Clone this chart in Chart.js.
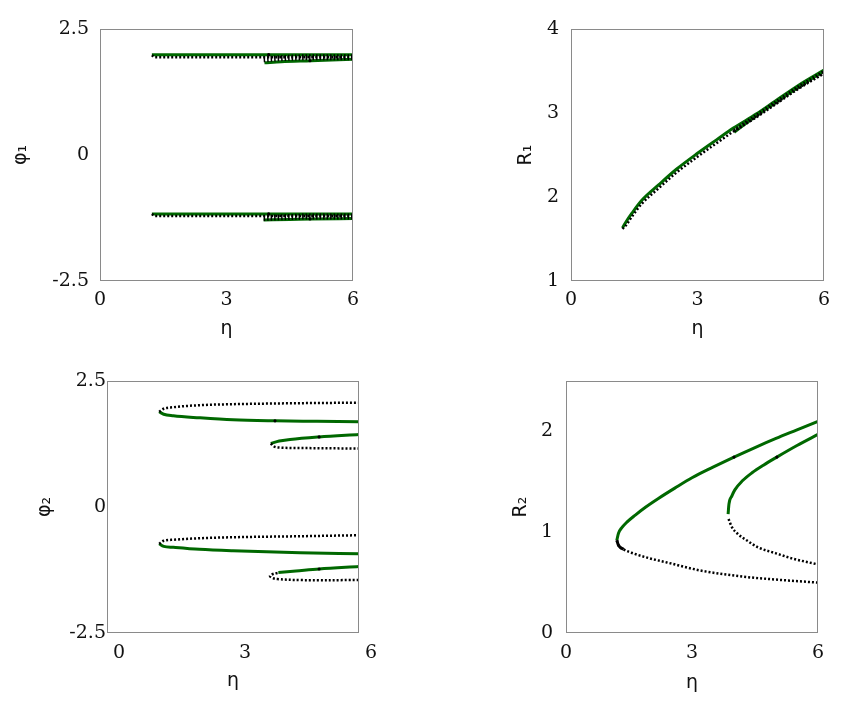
<!DOCTYPE html>
<html>
<head>
<meta charset="utf-8">
<script src="https://cdn.jsdelivr.net/npm/chart.js@4.4.1/dist/chart.umd.min.js"></script>
<style>
  body { margin: 0; background: #fff; width: 849px; height: 706px; position: relative; overflow: hidden; }
  canvas { position: absolute; }
</style>
</head>
<body>
<canvas id="c1" width="425" height="350" style="left:0;top:0"></canvas>
<canvas id="c2" width="424" height="350" style="left:425px;top:0"></canvas>
<canvas id="c3" width="425" height="356" style="left:0;top:350px"></canvas>
<canvas id="c4" width="424" height="356" style="left:425px;top:350px"></canvas>
<script>
// tick labels
const etaTicks = [0, 3, 6];
const phiTicks = [-2.5, 0, 2.5];
const r1Ticks = [1, 2, 3, 4];
const r2Ticks = [0, 1, 2];

// panel 1: phi1 vs eta (upper and lower copies)
const p1TopA_eta = [1.23, 2.0, 3.0, 4.0, 5.0, 6.0];
const p1TopA = [1.99, 1.99, 1.99, 1.99, 1.99, 1.99];
const p1TopB_eta = [1.23, 1.3, 2.0, 3.0, 4.0, 5.0, 6.0];
const p1TopB = [1.98, 1.94, 1.94, 1.94, 1.94, 1.94, 1.94];
const p1TopC_eta = [3.9, 4.3, 5.0, 6.0];
const p1TopC = [1.83, 1.85, 1.87, 1.90];
const p1TopD_eta = [3.88, 4.5, 5.0, 6.0];
const p1TopD = [1.90, 1.93, 1.94, 1.94];
const p1BotA_eta = [1.23, 2.0, 3.0, 4.0, 5.0, 6.0];
const p1BotA = [-1.17, -1.17, -1.17, -1.17, -1.17, -1.17];
const p1BotB_eta = [1.23, 1.3, 2.0, 3.0, 4.0, 5.0, 6.0];
const p1BotB = [-1.17, -1.21, -1.21, -1.21, -1.21, -1.21, -1.21];
const p1BotC_eta = [3.88, 4.5, 5.0, 6.0];
const p1BotC = [-1.29, -1.28, -1.27, -1.26];
const p1BotD_eta = [3.88, 4.5, 5.0, 6.0];
const p1BotD = [-1.25, -1.23, -1.22, -1.22];
const p1Mark_eta = [4.0, 4.98, 4.0, 4.98];
const p1Mark = [1.99, 1.87, -1.17, -1.27];

// panel 2: R1 vs eta
const p2A_eta = [1.22, 1.3, 1.45, 1.68, 2.07, 2.5, 3.0, 3.45, 3.85, 4.4, 4.84, 5.4, 6.0];
const p2A = [1.63, 1.70, 1.81, 1.96, 2.14, 2.33, 2.52, 2.68, 2.82, 2.99, 3.14, 3.33, 3.51];
const p2B = [1.62, 1.66, 1.77, 1.92, 2.10, 2.29, 2.48, 2.64, 2.78, 2.95, 3.10, 3.29, 3.47];
const p2C_eta = [3.87, 4.4, 4.84, 5.4, 6.0];
const p2C = [2.77, 2.97, 3.12, 3.31, 3.50];
const p2D = [2.79, 2.97, 3.12, 3.31, 3.49];

// panel 3: phi2 vs eta
const p3TopA_eta = [1.24, 1.35, 1.58, 2.2, 3.0, 4.0, 5.0, 6.0];
const p3TopA = [1.89, 1.84, 1.81, 1.77, 1.73, 1.71, 1.70, 1.69];
const p3TopB_eta = [1.24, 1.35, 1.58, 2.2, 3.0, 4.6, 6.0];
const p3TopB = [1.89, 1.95, 1.98, 2.02, 2.04, 2.06, 2.07];
const p3TopC_eta = [3.9, 4.1, 4.36, 5.05, 6.0];
const p3TopC = [1.26, 1.31, 1.34, 1.39, 1.44];
const p3TopD_eta = [3.9, 3.98, 4.1, 4.6, 6.0];
const p3TopD = [1.26, 1.20, 1.18, 1.17, 1.16];
const p3BotA_eta = [1.24, 1.35, 1.58, 2.2, 3.0, 4.6, 6.0];
const p3BotA = [-0.73, -0.78, -0.80, -0.84, -0.87, -0.91, -0.93];
const p3BotB = [-0.73, -0.67, -0.65, -0.62, -0.60, -0.58, -0.56];
const p3BotC_eta = [4.08, 4.5, 5.05, 6.0];
const p3BotC = [-1.30, -1.27, -1.23, -1.18];
const p3BotD_eta = [4.06, 3.95, 3.88, 3.95, 4.06, 4.6, 6.0];
const p3BotD = [-1.31, -1.33, -1.37, -1.41, -1.43, -1.45, -1.45];
const p3Mark_eta = [4.0, 5.05, 5.05];
const p3Mark = [1.71, 1.39, -1.23];

// panel 4: R2 vs eta
const p4A_eta = [1.21, 1.25, 1.32, 1.45, 1.65, 1.9, 2.2, 2.6, 3.0, 3.5, 4.0, 4.5, 5.0, 5.5, 6.0];
const p4A = [0.92, 0.99, 1.04, 1.10, 1.17, 1.25, 1.335, 1.44, 1.54, 1.645, 1.745, 1.84, 1.93, 2.015, 2.10];
const p4B_eta = [1.21, 1.25, 1.37, 1.6, 2.0, 2.4, 3.2, 4.2, 5.0, 6.0];
const p4B = [0.92, 0.87, 0.83, 0.79, 0.74, 0.70, 0.62, 0.56, 0.53, 0.50];
const p4Nose_eta = [1.21, 1.25, 1.37];
const p4Nose = [0.92, 0.87, 0.83];
const p4C_eta = [3.86, 3.88, 3.95, 4.02, 4.2, 4.43, 4.7, 5.02, 5.5, 6.0];
const p4C = [1.18, 1.28, 1.36, 1.42, 1.51, 1.59, 1.665, 1.745, 1.86, 1.97];
const p4D_eta = [3.87, 3.95, 4.1, 4.3, 4.57, 5.0, 5.38, 6.0];
const p4D = [1.13, 1.05, 0.98, 0.92, 0.85, 0.79, 0.74, 0.68];
const p4Mark_eta = [4.0, 5.02];
const p4Mark = [1.745, 1.745];

const GREEN = '#006800';
const tickFont = { family: 'DejaVu Serif', size: 19 };
const titleFont = { family: 'DejaVu Sans', size: 19 };

function pts(xs, ys) {
    return xs.map((x, i) => ({ x: x, y: ys[i] }));
}

function stable(xs, ys) {
    return { data: pts(xs, ys), showLine: true, borderColor: GREEN, borderWidth: 3,
             pointRadius: 0, cubicInterpolationMode: 'monotone', order: 2 };
}

function unstable(xs, ys, w, dash) {
    return { data: pts(xs, ys), showLine: true, borderColor: '#000', borderWidth: w || 2.5,
             borderDash: dash || [2, 2], pointRadius: 0, cubicInterpolationMode: 'monotone', order: 1 };
}

// branch that folds back on itself: plain spline instead of monotone
function unstableFold(xs, ys) {
    return { data: pts(xs, ys), showLine: true, borderColor: '#000', borderWidth: 2.5,
             borderDash: [2, 2], pointRadius: 0, tension: 0.4, order: 1 };
}

function solidBlack(xs, ys) {
    return { data: pts(xs, ys), showLine: true, borderColor: '#000', borderWidth: 3,
             pointRadius: 0, cubicInterpolationMode: 'monotone', order: 1 };
}

function marks(xs, ys) {
    return { data: pts(xs, ys), showLine: false, pointRadius: 1.6, pointBackgroundColor: '#000',
             pointBorderWidth: 0, order: 0 };
}

// box around the plot area
const frame = {
    id: 'frame',
    afterDatasetsDraw(chart) {
        const a = chart.chartArea, c = chart.ctx;
        c.save();
        c.strokeStyle = '#8a8a8a';
        c.lineWidth = 1;
        c.strokeRect(a.left + 0.5, a.top + 0.5, a.right - a.left - 1, a.bottom - a.top - 1);
        c.restore();
    }
};

function makeChart(id, g) {
    return new Chart(document.getElementById(id), {
        type: 'scatter',
        data: { datasets: g.datasets },
        options: {
            responsive: false,
            animation: false,
            devicePixelRatio: 1,
            layout: { padding: { left: g.padLeft, top: g.padTop, right: g.padRight, bottom: 0 } },
            plugins: { legend: { display: false }, tooltip: { enabled: false } },
            scales: {
                x: {
                    type: 'linear', min: 0, max: 6,
                    afterBuildTicks: s => { s.ticks = etaTicks.map(v => ({ value: v })); },
                    afterFit: s => { s.height = g.xHeight; },
                    grid: { display: false, drawTicks: false },
                    border: { display: false },
                    ticks: { font: tickFont, color: '#111', padding: g.xTickPad, labelOffset: g.labelOffset || 0,
                             maxRotation: 0, autoSkip: false, callback: v => String(v) },
                    title: { display: true, text: 'η', font: titleFont, color: '#111',
                             padding: { top: 0, bottom: g.xTitlePad } }
                },
                y: {
                    type: 'linear', min: g.yMin, max: g.yMax,
                    afterBuildTicks: s => { s.ticks = g.yTicks.map(v => ({ value: v })); },
                    afterFit: s => { s.width = g.yWidth; },
                    grid: { display: false, drawTicks: false },
                    border: { display: false },
                    ticks: { font: tickFont, color: '#111', padding: g.yTickPad, autoSkip: false,
                             callback: v => String(v) },
                    title: { display: true, text: g.yTitle, font: titleFont, color: '#111',
                             padding: { top: 0, bottom: 0 } }
                }
            }
        },
        plugins: [frame]
    });
}

makeChart('c1', {
    padLeft: 10, padTop: 29, padRight: 72, yWidth: 90, xHeight: 69, xTitlePad: 10,
    xTickPad: 8, yTickPad: 11,
    yMin: -2.5, yMax: 2.5, yTicks: phiTicks, yTitle: 'φ₁',
    datasets: [
        marks(p1Mark_eta, p1Mark),
        unstable(p1TopB_eta, p1TopB), unstable(p1BotB_eta, p1BotB),
        unstable(p1TopD_eta, p1TopD, 6, [1.5, 2]), unstable(p1BotD_eta, p1BotD, 6, [1.5, 2]),
        stable(p1TopA_eta, p1TopA), stable(p1BotA_eta, p1BotA),
        stable(p1TopC_eta, p1TopC), stable(p1BotC_eta, p1BotC)
    ]
});

makeChart('c2', {
    padLeft: 90, padTop: 29, padRight: 25, yWidth: 56, xHeight: 69, xTitlePad: 10,
    xTickPad: 8, yTickPad: 12,
    yMin: 1, yMax: 4, yTicks: r1Ticks, yTitle: 'R₁',
    datasets: [
        unstable(p2A_eta, p2B), unstable(p2C_eta, p2D, 4, [1.5, 2]),
        stable(p2A_eta, p2A), stable(p2C_eta, p2C)
    ]
});

makeChart('c3', {
    padLeft: 34, padTop: 31, padRight: 66, yWidth: 73, xHeight: 73, xTitlePad: 14,
    xTickPad: 9, yTickPad: 1, labelOffset: 12,
    yMin: -2.5, yMax: 2.5, yTicks: phiTicks, yTitle: 'φ₂',
    datasets: [
        marks(p3Mark_eta, p3Mark),
        unstable(p3TopB_eta, p3TopB), unstable(p3TopD_eta, p3TopD),
        unstable(p3BotA_eta, p3BotB), unstableFold(p3BotD_eta, p3BotD),
        stable(p3TopA_eta, p3TopA), stable(p3TopC_eta, p3TopC),
        stable(p3BotA_eta, p3BotA), stable(p3BotC_eta, p3BotC)
    ]
});

makeChart('c4', {
    padLeft: 85, padTop: 31, padRight: 31, yWidth: 56, xHeight: 73, xTitlePad: 12,
    xTickPad: 9, yTickPad: 13,
    yMin: 0, yMax: 2.5, yTicks: r2Ticks, yTitle: 'R₂',
    datasets: [
        marks(p4Mark_eta, p4Mark),
        solidBlack(p4Nose_eta, p4Nose),
        unstable(p4B_eta, p4B), unstable(p4D_eta, p4D),
        stable(p4A_eta, p4A), stable(p4C_eta, p4C)
    ]
});
</script>
</body>
</html>
